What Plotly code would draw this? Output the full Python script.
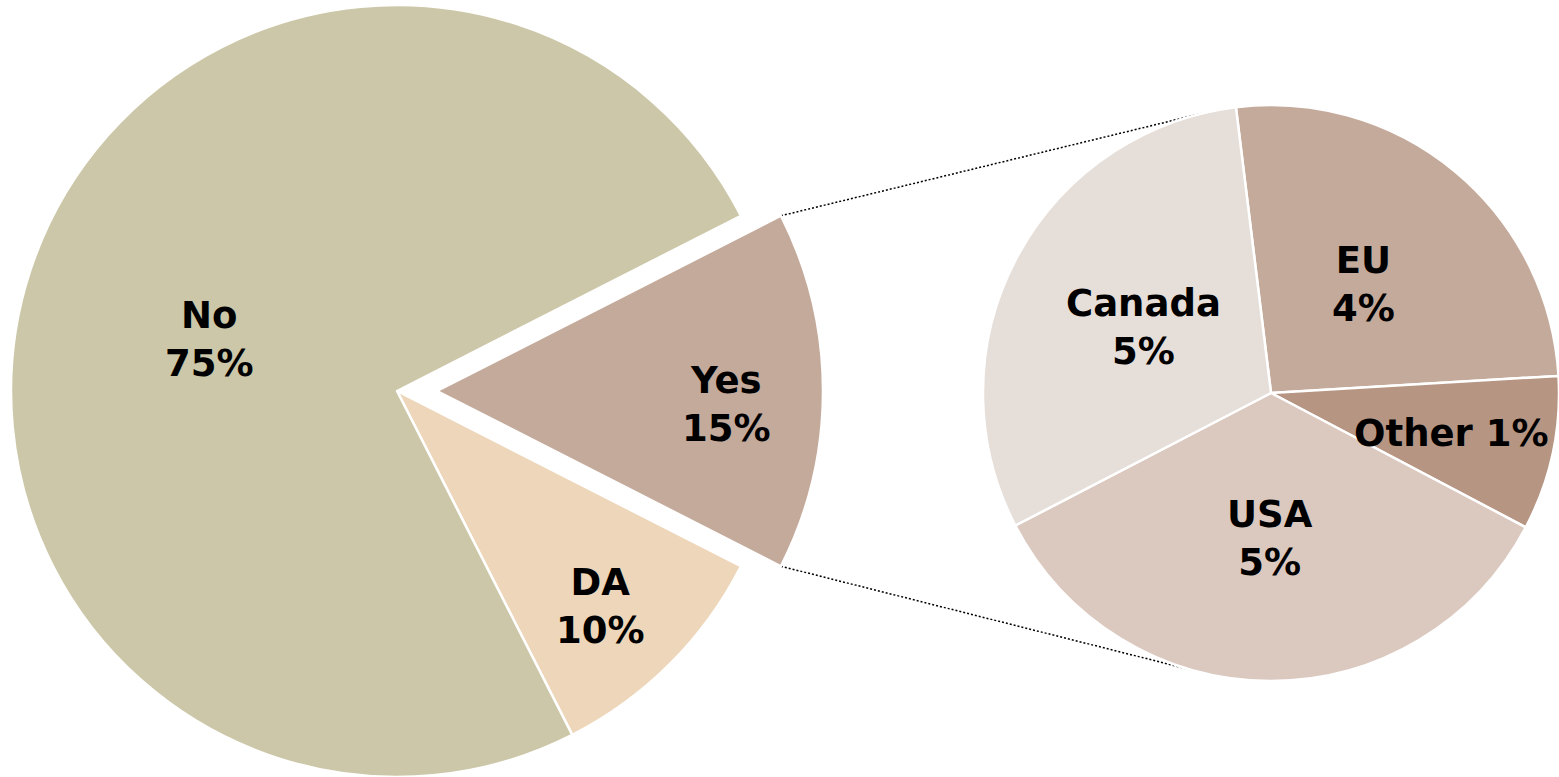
import math
import plotly.graph_objects as go

W, H = 1559, 777

# Share of answers (percent)
main_labels = ["Yes", "DA", "No"]
main_values = [15, 10, 75]

# Breakdown of the "Yes" share by destination (percent of all answers)
sub_labels = ["EU", "Other", "USA", "Canada"]
sub_values = [3.9, 1.3, 5.2, 4.6]

main_colors = ["#C4AA9B", "#EDD6B9", "#CCC7A8"]
sub_colors = ["#C4AA9B", "#B69683", "#DBC9C0", "#E6DED8"]

# label distance from the centre, as a fraction of the radius
main_label_r = [0.76, 0.76, 0.5]
sub_label_r = [0.5, 0.64, 0.5, 0.5]
sub_label_oneline = [False, True, False, False]

# pie geometry in pixels
LEFT_C, LEFT_R = (397.0, 391.0), 386.0
RIGHT_C, RIGHT_R = (1271.0, 393.0), 288.0
PULL_PX = 40.0
CONNECT_DEG = 14.0  # connector end points, degrees past the vertical

FONT = "Verdana, DejaVu Sans, sans-serif"
FONT_SIZE = 37


def domain(c, r, dx=0.0):
    cx, cy = c
    return dict(
        x=[(cx - r + dx) / W, (cx + r + dx) / W],
        y=[max(0.0, 1 - (cy + r) / H), min(1.0, 1 - (cy - r) / H)],
    )


def point(c, r, math_deg):
    a = math.radians(math_deg)
    return c[0] + r * math.cos(a), c[1] - r * math.sin(a)


def to_paper(p):
    return p[0] / W, 1 - p[1] / H


def mid_angles(values, rotation):
    total = sum(values)
    out, acc = [], 0.0
    for v in values:
        clock = rotation + 360.0 * (acc + v / 2) / total
        out.append(90.0 - clock)
        acc += v
    return out


main_total = sum(main_values)
main_rot = 90.0 - 360.0 * main_values[0] / main_total / 2
sub_rot = -7.0

fig = go.Figure()

# left pie with the "Yes" slice left empty (drawn pulled out below)
fig.add_trace(go.Pie(
    labels=main_labels, values=main_values, sort=False, direction="clockwise",
    rotation=main_rot, domain=domain(LEFT_C, LEFT_R),
    marker=dict(colors=["rgba(0,0,0,0)"] + main_colors[1:],
                line=dict(color="white", width=[0, 2.5, 2.5])),
    textinfo="none", hoverinfo="skip", showlegend=False,
))

# exploded "Yes" slice
yes_c = (LEFT_C[0] + PULL_PX, LEFT_C[1])
fig.add_trace(go.Pie(
    labels=[main_labels[0], "rest"], values=[main_values[0], main_total - main_values[0]],
    sort=False, direction="clockwise", rotation=main_rot,
    domain=domain(LEFT_C, LEFT_R, PULL_PX),
    marker=dict(colors=[main_colors[0], "rgba(0,0,0,0)"],
                line=dict(color="white", width=[2.5, 0])),
    textinfo="none", hoverinfo="skip", showlegend=False,
))

# right pie
fig.add_trace(go.Pie(
    labels=sub_labels, values=sub_values, sort=False, direction="clockwise",
    rotation=sub_rot, domain=domain(RIGHT_C, RIGHT_R),
    marker=dict(colors=sub_colors, line=dict(color="white", width=2.5)),
    textinfo="none", hoverinfo="skip", showlegend=False,
))

annotations = []
for lab, val, ang, fr in zip(main_labels, main_values,
                             mid_angles(main_values, main_rot), main_label_r):
    c = yes_c if lab == main_labels[0] else LEFT_C
    px = point(c, LEFT_R * fr, ang)
    dy = 14 if lab == main_labels[0] else 8
    x, y = to_paper((px[0] - 4, px[1] + dy))
    annotations.append(dict(
        x=x, y=y, xref="paper", yref="paper", showarrow=False,
        text=f"<b>{lab}<br>{val:.0f}%</b>",
        font=dict(family=FONT, size=FONT_SIZE, color="black"),
        xanchor="center", yanchor="middle",
    ))

for lab, val, ang, fr, one in zip(sub_labels, sub_values,
                                  mid_angles(sub_values, sub_rot), sub_label_r,
                                  sub_label_oneline):
    px = point(RIGHT_C, RIGHT_R * fr, ang)
    x, y = to_paper((px[0], px[1] + 2))
    sep = " " if one else "<br>"
    annotations.append(dict(
        x=x, y=y, xref="paper", yref="paper", showarrow=False,
        text=f"<b>{lab}{sep}{val:.0f}%</b>",
        font=dict(family=FONT, size=FONT_SIZE, color="black"),
        xanchor="center", yanchor="middle",
    ))

# dotted connectors from the pulled slice to the breakdown pie
yes_span = 360.0 * main_values[0] / main_total
top_start = point(yes_c, LEFT_R, 90.0 - main_rot)
bot_start = point(yes_c, LEFT_R, 90.0 - main_rot - yes_span)
top_end = point(RIGHT_C, RIGHT_R, 90.0 + CONNECT_DEG)
bot_end = point(RIGHT_C, RIGHT_R, -90.0 - CONNECT_DEG)

shapes = []
for a, b in [(top_start, top_end), (bot_start, bot_end)]:
    (x0, y0), (x1, y1) = to_paper(a), to_paper(b)
    shapes.append(dict(
        type="line", xref="paper", yref="paper", x0=x0, y0=y0, x1=x1, y1=y1,
        line=dict(color="black", width=1.5, dash="2px,2px"), layer="below",
    ))

fig.update_layout(
    width=W, height=H, margin=dict(l=0, r=0, t=0, b=0),
    paper_bgcolor="white", plot_bgcolor="white",
    showlegend=False, annotations=annotations, shapes=shapes,
)

fig.write_html("out.html")
